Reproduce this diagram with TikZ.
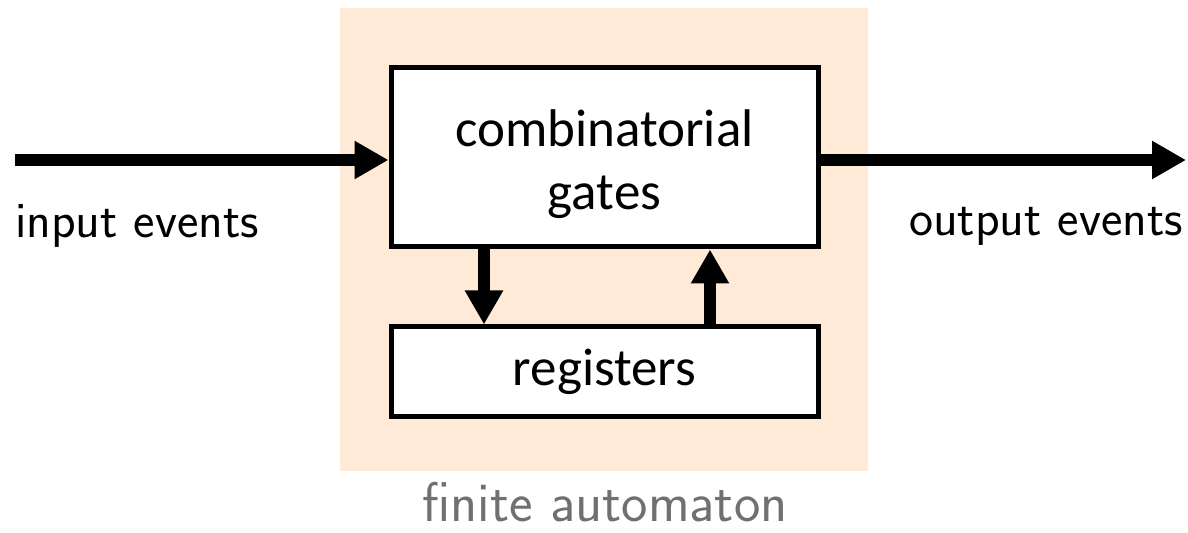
\documentclass[tikz,border=0pt]{standalone}
\usepackage{fontspec}
\newfontfamily\boxfont{Carlito}
\usetikzlibrary{arrows.meta}
\definecolor{bgpeach}{RGB}{254,234,214}
\definecolor{labgray}{RGB}{112,112,112}
\begin{document}
\begin{tikzpicture}[x=0.5pt,y=-0.5pt,
  blockbox/.style={draw=black,line width=2.5pt,fill=white,inner sep=0pt},
  boxtext/.style={font=\boxfont\fontsize{26.5}{31.5}\selectfont,align=center},
  flow/.style={line width=6pt,-{Triangle[length=17pt,width=18pt]}},
  outlabel/.style={font=\sffamily\fontsize{25.5}{30}\selectfont}]
\useasboundingbox (0,0) rectangle (1188,533);
\fill[bgpeach] (340,8) rectangle (868,471);
\node[blockbox,minimum width=213.5pt,minimum height=89.5pt,
  label={[boxtext,yshift=-3.5pt]center:combinatorial\\gates}] (comb) at (604.5,157.5) {};
\node[blockbox,boxtext,minimum width=213.5pt,minimum height=45pt] (reg) at (604.5,372) {registers};
\coordinate (in) at (15,160);
\coordinate (out) at (1186,160);
\draw[flow] (in) -- (in -| comb.west);
\draw[flow] (comb.east |- out) -- (out);
\draw[flow] (484,0 |- comb.south) -- (484,0 |- reg.north);
\draw[flow] (710,0 |- reg.north) -- (710,0 |- comb.south);
\node[outlabel] (inl) at (137,226) {input events};
\node[outlabel] (outl) at (1046,226) {output events};
\node[outlabel,text=labgray,inner sep=0pt,anchor=base,font=\sffamily\fontsize{28}{33}\selectfont] (fa) at (605,522) {finite automaton};
\end{tikzpicture}
\end{document}
